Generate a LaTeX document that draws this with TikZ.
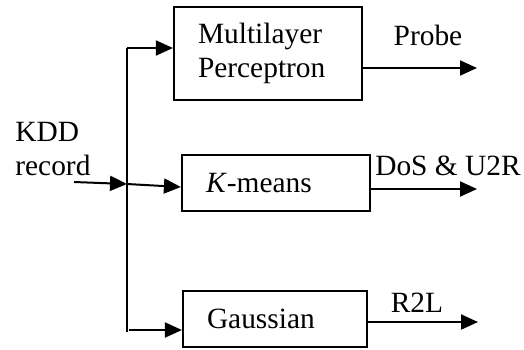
\documentclass[tikz,border=0pt]{standalone}
\usepackage{fontspec}
\setmainfont{Liberation Serif}
\usetikzlibrary{arrows.meta}
\begin{document}
\begin{tikzpicture}[x=0.5pt,y=-0.5pt,
  every node/.style={font=\fontsize{14.7}{17}\selectfont},
  blk/.style={draw,line width=1.1pt,rectangle,inner xsep=12pt,inner ysep=0pt,align=left,text width=70pt,minimum height=28pt},
  arr/.style={line width=1pt,-{Triangle[length=8.5pt,width=7.5pt]}},
  ln/.style={line width=1pt}]
\useasboundingbox (0,0) rectangle (524,349);
% boxes
\node[blk,minimum height=46.5pt] (mlp) at (268,53.5) {Multilayer\\Perceptron};
\node[blk] (km) at (276,183) {\textit{K}-means};
\node[blk,text width=68pt] (ga) at (275,319) {Gaussian};
% input
\node[anchor=north west,inner sep=0pt,align=left,font=\fontsize{14.7}{17}\selectfont] (kdd) at (15,122) {KDD\\record};
\coordinate (in) at (74,182);
\coordinate (j) at (127,184);
\coordinate (top) at (127,48);
\coordinate (bot) at (127,332);
\coordinate (gs) at (129,330);
\draw[ln] (top) -- (bot);
\draw[arr] (in) -- (j);
\draw[arr] (j) -- ([yshift=-2pt]km.west);
\draw[arr] (top) -- (top -| mlp.west);
\draw[arr] (gs) -- (gs -| ga.west);
% outputs
\coordinate (po) at (477,68);
\coordinate (do) at (477,189);
\coordinate (ro) at (478,322);
\draw[arr] (po -| mlp.east) -- (po);
\draw[arr] (do -| km.east) -- (do);
\draw[arr] (ro -| ga.east) -- (ro);
\node[anchor=base] (lp) at (428,45) {Probe};
\node[anchor=base] (ld) at (448,175) {DoS \& U2R};
\node[anchor=base] (lr) at (417,312) {R2L};
\end{tikzpicture}
\end{document}
